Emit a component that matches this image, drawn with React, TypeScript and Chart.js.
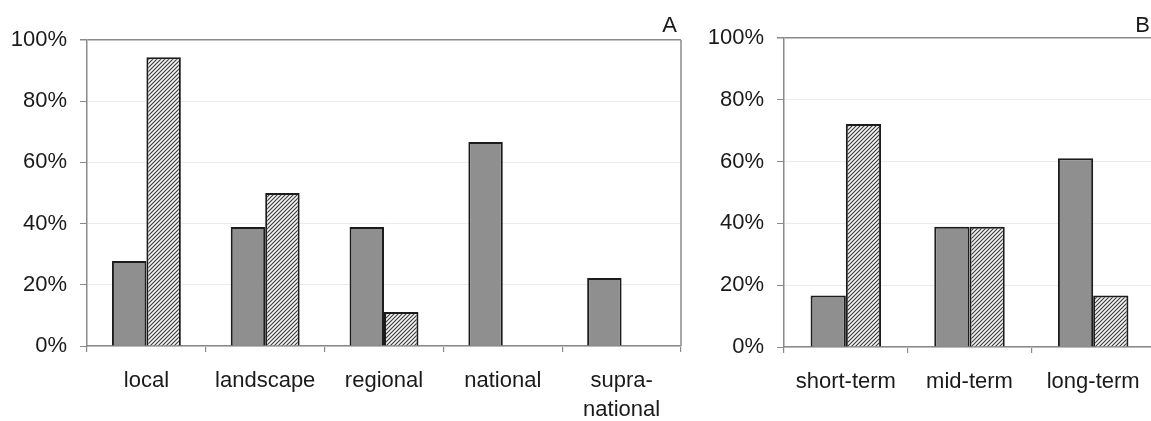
import React, { useEffect, useRef } from "react";
import { Chart, registerables } from "chart.js";

Chart.register(...registerables);

// ---------- data ----------
const categoriesA: (string | string[])[] = ["local", "landscape", "regional", "national", ["supra-", "national"]];
const seriesA1: (number | null)[] = [27.8, 38.9, 38.9, 66.7, 22.2];
const seriesA2: (number | null)[] = [94.4, 50.0, 11.1, null, null];

const categoriesB: string[] = ["short-term", "mid-term", "long-term"];
const seriesB1: (number | null)[] = [16.7, 38.9, 61.1];
const seriesB2: (number | null)[] = [72.2, 38.9, 16.7];

const yTicks: number[] = [0, 20, 40, 60, 80, 100];

// ---------- styles ----------
const FONT = "'Liberation Sans', Arial, sans-serif";
const TEXT = "#1a1a1a";
const AXIS = "#8a8a8a";
const GRID = "#ebebeb";
const GRAY_FILL = "#8f8f8f";
const BAR_BORDER = "#1c1c1c";

function makeHatch(): CanvasPattern | string {
  const c = document.createElement("canvas");
  c.width = 4;
  c.height = 4;
  const g = c.getContext("2d");
  if (!g) return "#bbb";
  g.fillStyle = "#f4f4f4";
  g.fillRect(0, 0, 4, 4);
  g.strokeStyle = "#3a3a3a";
  g.lineWidth = 1.1;
  g.beginPath();
  g.moveTo(-1, 5);
  g.lineTo(5, -1);
  g.moveTo(-1, 1);
  g.lineTo(1, -1);
  g.moveTo(3, 5);
  g.lineTo(5, 3);
  g.stroke();
  const p = g.createPattern(c, "repeat");
  return p || "#bbb";
}

const panelPlugin = {
  id: "panelDecor",
  afterDraw(chart: any, _args: any, opts: any) {
    const { ctx, chartArea } = chart;
    ctx.save();
    if (opts.rightBorder) {
      ctx.strokeStyle = AXIS;
      ctx.lineWidth = 1.5;
      ctx.beginPath();
      ctx.moveTo(chartArea.right, chartArea.top);
      ctx.lineTo(chartArea.right, chartArea.bottom);
      ctx.stroke();
    }
    if (opts.letter) {
      ctx.fillStyle = TEXT;
      ctx.font = `22px ${FONT}`;
      ctx.textAlign = "right";
      ctx.textBaseline = "alphabetic";
      ctx.fillText(opts.letter, opts.letterX, opts.letterY);
    }
    ctx.restore();
  },
};

type PanelProps = {
  left: number;
  width: number;
  labels: (string | string[])[];
  s1: (number | null)[];
  s2: (number | null)[];
  padTop: number;
  padRight: number;
  yWidth: number;
  xHeight: number;
  catPct: number;
  letter: string;
  letterX: number;
  rightBorder: boolean;
};

function Panel(p: PanelProps) {
  const ref = useRef<HTMLCanvasElement | null>(null);
  useEffect(() => {
    if (!ref.current) return;
    const hatch = makeHatch();
    const chart = new Chart(ref.current, {
      type: "bar",
      data: {
        labels: p.labels as any,
        datasets: [
          {
            data: p.s1,
            backgroundColor: GRAY_FILL,
            borderColor: BAR_BORDER,
            borderWidth: 2,
            categoryPercentage: p.catPct,
            barPercentage: 1.0,
          },
          {
            data: p.s2,
            backgroundColor: hatch as any,
            borderColor: BAR_BORDER,
            borderWidth: 2,
            categoryPercentage: p.catPct,
            barPercentage: 1.0,
          },
        ],
      },
      options: {
        animation: false,
        responsive: false,
        devicePixelRatio: 1,
        layout: { padding: { top: p.padTop, right: p.padRight, left: 0, bottom: 0 } },
        plugins: {
          legend: { display: false },
          tooltip: { enabled: false },
          panelDecor: { letter: p.letter, letterX: p.letterX, letterY: 32, rightBorder: p.rightBorder },
        } as any,
        scales: {
          x: {
            grid: {
              offset: true,
              drawOnChartArea: false,
              drawTicks: true,
              tickLength: 6,
              color: AXIS,
              lineWidth: 1.2,
            },
            border: { color: AXIS, width: 1.5 },
            ticks: {
              font: { family: FONT, size: 22, lineHeight: 1.3 },
              color: TEXT,
              padding: 15,
              maxRotation: 0,
              autoSkip: false,
            },
            afterFit: (s: any) => {
              s.height = p.xHeight;
            },
          },
          y: {
            min: 0,
            max: 100,
            afterBuildTicks: (s: any) => {
              s.ticks = yTicks.map((v) => ({ value: v }));
            },
            grid: {
              color: (c: any) => (c.tick && c.tick.value === 100 ? AXIS : GRID),
              lineWidth: (c: any) => (c.tick && c.tick.value === 100 ? 1.5 : 1),
              tickColor: AXIS,
              tickLength: 7,
              drawTicks: true,
            },
            border: { color: AXIS, width: 1.5 },
            ticks: {
              font: { family: FONT, size: 22 },
              color: TEXT,
              padding: 13,
              callback: (v: any) => `${v}%`,
            },
            afterFit: (s: any) => {
              s.width = p.yWidth;
            },
          },
        },
      },
      plugins: [panelPlugin],
    });
    return () => chart.destroy();
  }, []);
  return (
    <div style={{ position: "absolute", left: p.left, top: 0, width: p.width, height: 421 }}>
      <canvas ref={ref} width={p.width} height={421} style={{ width: p.width, height: 421, display: "block" }} />
    </div>
  );
}

export default function App() {
  return (
    <div
      style={{
        position: "fixed",
        left: 0,
        top: 0,
        width: 1151,
        height: 421,
        overflow: "hidden",
        background: "#ffffff",
      }}
    >
      <Panel
        left={0}
        width={690}
        labels={categoriesA}
        s1={seriesA1}
        s2={seriesA2}
        padTop={40}
        padRight={9}
        yWidth={87}
        xHeight={75}
        catPct={0.58}
        letter="A"
        letterX={677}
        rightBorder={true}
      />
      <Panel
        left={690}
        width={465}
        labels={categoriesB}
        s1={seriesB1}
        s2={seriesB2}
        padTop={38}
        padRight={0}
        yWidth={94}
        xHeight={74}
        catPct={0.57}
        letter="B"
        letterX={460}
        rightBorder={false}
      />
    </div>
  );
}
